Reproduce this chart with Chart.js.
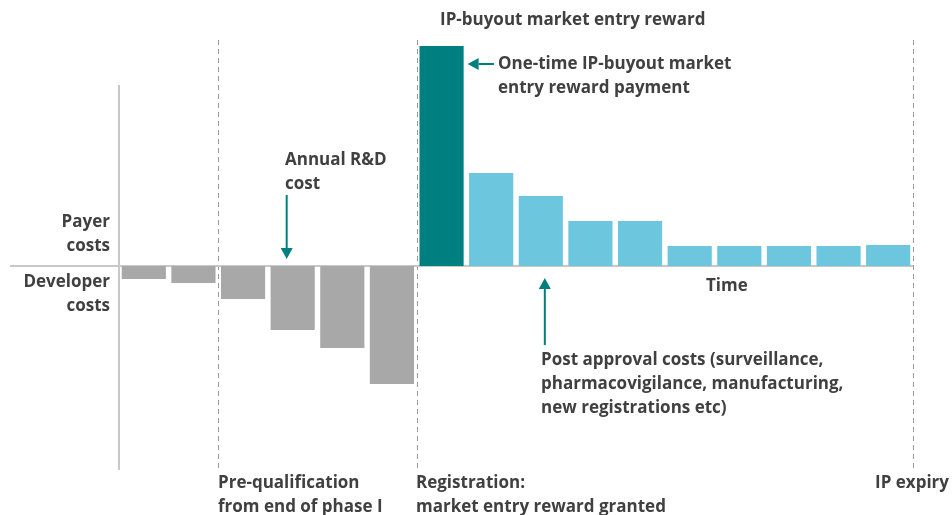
<!DOCTYPE html>
<html>
<head>
<meta charset="utf-8">
<script src="https://cdn.jsdelivr.net/npm/chart.js@4/dist/chart.umd.min.js"></script>
<style>
  html, body { margin: 0; padding: 0; background: #fff; }
  #wrap { width: 952px; height: 515px; }
</style>
</head>
<body>
<div id="wrap"><canvas id="costChart" width="952" height="515"></canvas></div>
<script>
// Periods along the time axis (one bar each)
const periods = ['P1', 'P2', 'P3', 'P4', 'P5', 'P6', 'P7', 'P8', 'P9', 'P10', 'P11', 'P12', 'P13', 'P14', 'P15', 'P16'];

// Developer costs (negative), payer reward, post approval payments
const developerCosts = [-13, -17, -33, -64, -82, -118, null, null, null, null, null, null, null, null, null, null];
const rewardPayment  = [null, null, null, null, null, null, 220, null, null, null, null, null, null, null, null, null];
const postApproval   = [null, null, null, null, null, null, null, 93, 70, 45, 45, 20, 20, 20, 20, 21];

// Milestones drawn as dashed lines between bars (index of the boundary)
const milestones = [1.5, 5.5, 15.5];

const TEXT = '#404040';
const TEAL = '#007f80';
const FONT = 'bold 17px "Open Sans", sans-serif';

function arrow(ctx, x1, y1, x2, y2) {
    // line from (x1,y1) to head at (x2,y2)
    const ang = Math.atan2(y2 - y1, x2 - x1);
    const len = 11, w = 6;
    ctx.strokeStyle = TEAL;
    ctx.fillStyle = TEAL;
    ctx.lineWidth = 2;
    ctx.beginPath();
    ctx.moveTo(x1, y1);
    ctx.lineTo(x2 - Math.cos(ang) * len, y2 - Math.sin(ang) * len);
    ctx.stroke();
    ctx.beginPath();
    ctx.moveTo(x2, y2);
    ctx.lineTo(x2 - Math.cos(ang) * len - Math.sin(ang) * w, y2 - Math.sin(ang) * len + Math.cos(ang) * w);
    ctx.lineTo(x2 - Math.cos(ang) * len + Math.sin(ang) * w, y2 - Math.sin(ang) * len - Math.cos(ang) * w);
    ctx.closePath();
    ctx.fill();
}

function lines(ctx, arr, x, y, align) {
    ctx.textAlign = align || 'left';
    arr.forEach((t, i) => ctx.fillText(t, x, y + i * 24));
}

const backdrop = {
    id: 'backdrop',
    beforeDatasetsDraw(chart) {
        const ctx = chart.ctx;
        const xs = chart.scales.x, ys = chart.scales.y;
        const area = chart.chartArea;
        const slot = xs.getPixelForValue(1) - xs.getPixelForValue(0);
        ctx.save();
        // milestones
        ctx.strokeStyle = '#9a9a9a';
        ctx.lineWidth = 1;
        ctx.setLineDash([5, 4]);
        milestones.forEach(m => {
            const x = Math.round(xs.getPixelForValue(0) + m * slot) + 0.5;
            ctx.beginPath();
            ctx.moveTo(x, area.top);
            ctx.lineTo(x, area.bottom);
            ctx.stroke();
        });
        ctx.setLineDash([]);
        // axes
        ctx.strokeStyle = '#c8c8c8';
        ctx.lineWidth = 2;
        const y0 = ys.getPixelForValue(0);
        ctx.beginPath();
        ctx.moveTo(10, y0);
        ctx.lineTo(area.right, y0);
        ctx.stroke();
        ctx.beginPath();
        ctx.moveTo(area.left, 85);
        ctx.lineTo(area.left, area.bottom);
        ctx.stroke();
        ctx.restore();
    },
    afterDatasetsDraw(chart) {
        const ctx = chart.ctx;
        const xs = chart.scales.x, ys = chart.scales.y;
        const y0 = ys.getPixelForValue(0);
        ctx.save();
        ctx.font = FONT;
        ctx.fillStyle = TEXT;
        ctx.textBaseline = 'middle';

        lines(ctx, ['IP-buyout market entry reward'], 440, 20);
        lines(ctx, ['One-time IP-buyout market', 'entry reward payment'], 498, 64);
        lines(ctx, ['Annual R&D', 'cost'], 285, 160);
        lines(ctx, ['Payer', 'costs'], 110, 222, 'right');
        lines(ctx, ['Developer', 'costs'], 110, 282, 'right');
        lines(ctx, ['Time'], 706, 286);
        lines(ctx, ['Post approval costs (surveillance,', 'pharmacovigilance, manufacturing,', 'new registrations etc)'], 541, 360);
        lines(ctx, ['Pre-qualification', 'from end of phase I'], 218, 483);
        lines(ctx, ['Registration:', 'market entry reward granted'], 416, 483);
        lines(ctx, ['IP expiry'], 949, 483, 'right');

        const teal = chart.getDatasetMeta(1).data[6];
        arrow(ctx, 494, 64, teal.x + teal.width / 2 + 4, 64);
        const rd = chart.getDatasetMeta(0).data[3];
        arrow(ctx, rd.x - 6, 195, rd.x - 6, y0 - 7);
        const pa = chart.getDatasetMeta(2).data[8];
        arrow(ctx, pa.x + 4, 345, pa.x + 4, y0 + 12);
        ctx.restore();
    }
};

new Chart(document.getElementById('costChart').getContext('2d'), {
    type: 'bar',
    data: {
        labels: periods,
        datasets: [
            { label: 'Developer costs', data: developerCosts, backgroundColor: '#a8a8a8' },
            { label: 'Market entry reward', data: rewardPayment, backgroundColor: TEAL },
            { label: 'Post approval costs', data: postApproval, backgroundColor: '#6cc6dd' }
        ]
    },
    options: {
        responsive: false,
        animation: false,
        layout: { padding: { left: 119, right: 39, top: 40, bottom: 45 } },
        datasets: { bar: { grouped: false, categoryPercentage: 1, barPercentage: 0.89 } },
        plugins: {
            legend: { display: false },
            tooltip: { enabled: false }
        },
        scales: {
            x: { display: false },
            y: { display: false, min: -204, max: 226 }
        }
    },
    plugins: [backdrop]
});
</script>
</body>
</html>
